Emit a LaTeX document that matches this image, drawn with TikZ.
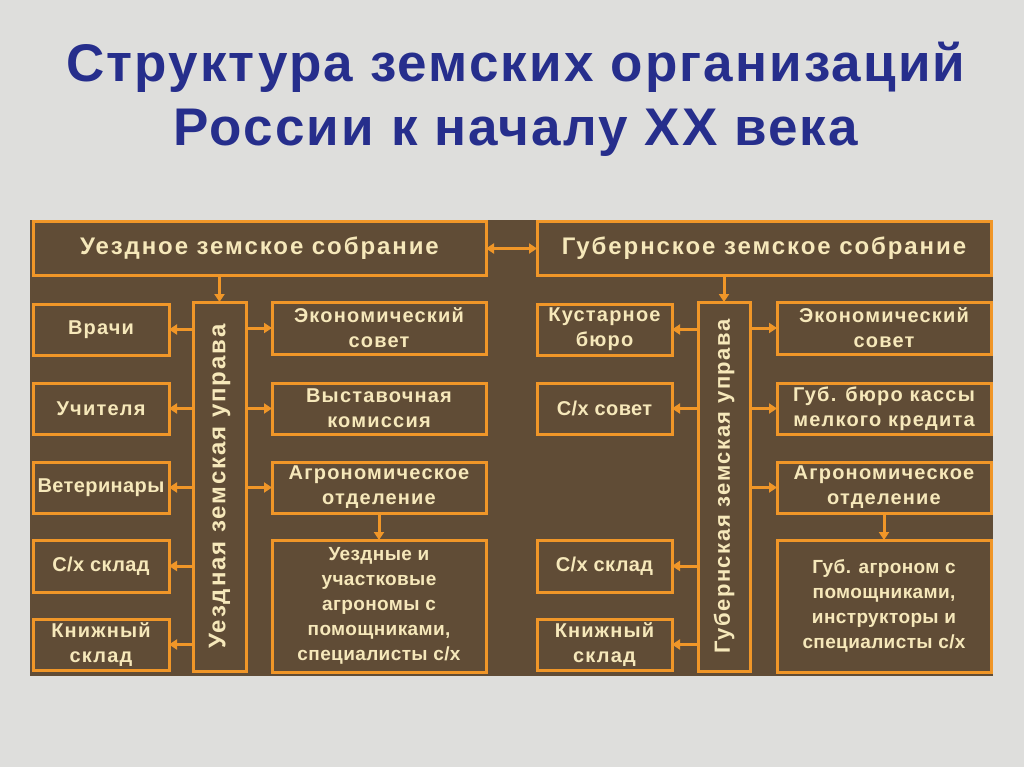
\documentclass[tikz,border=0pt]{standalone}
\usepackage{fontspec}
\setmainfont{Liberation Sans}
\newfontfamily\boxfont[LetterSpace=6]{Liberation Sans}
\newfontfamily\hdrfont[LetterSpace=8]{Liberation Sans}
\newfontfamily\vfont[LetterSpace=7]{Liberation Sans}
\newfontfamily\tightfont[LetterSpace=2]{Liberation Sans}
\newfontfamily\ttlfont[LetterSpace=4]{Liberation Sans}
\usetikzlibrary{arrows.meta}
\definecolor{bg}{RGB}{222,222,220}
\definecolor{panel}{RGB}{96,76,54}
\definecolor{edge}{RGB}{240,150,40}
\definecolor{txt}{RGB}{246,232,186}
\definecolor{ttl}{RGB}{38,46,140}
\newcommand\hdr{\hdrfont\bfseries\fontsize{24}{25}\selectfont}
\newcommand\vhdr{\vfont\bfseries\fontsize{22}{25}\selectfont}
\newcommand\sm{\boxfont\bfseries\fontsize{20}{25}\selectfont}
\newcommand\tg{\tightfont\bfseries\fontsize{20}{25}\selectfont}
\newcommand\bg{\tightfont\bfseries\fontsize{19}{25}\selectfont}
\newcommand\bx[7][\sm]{\node[box,font=#1,minimum width={#5-#3},minimum height={#6-#4}] (#2) at ({(#3+#5)/2},{(#4+#6)/2}) {#7};}
\begin{document}
\begin{tikzpicture}[x=1pt,y=-1pt,
  box/.style={draw=edge,line width=3pt,fill=panel,text=txt,inner sep=0pt,outer sep=0pt,align=center},
  arr/.style={draw=edge,line width=3pt,-{Triangle[width=10pt,length=8pt]}},
  darr/.style={draw=edge,line width=3pt,{Triangle[width=10pt,length=8pt]}-{Triangle[width=10pt,length=8pt]}},
  title/.style={text=ttl,font=\ttlfont\bfseries\fontsize{53}{64}\selectfont,anchor=base}]
\useasboundingbox (0,0) rectangle (1024,767);
\fill[bg] (0,0) rectangle (1024,767);
\node[title] (t1) at (516,82) {Структура земских организаций};
\node[title] (t2) at (516,146) {России к началу XX века};
\fill[panel] (30,220) rectangle (993,676);
% top
\bx[\hdr]{ua}{33}{222}{486}{275}{Уездное земское собрание}
\bx[\hdr]{ga}{537}{222}{991}{275}{Губернское земское собрание}
% left uprava
\bx{uu}{193}{302}{246}{671}{}
\node[text=txt,font=\hdr,rotate=90] (uut) at (uu.center) {Уездная земская управа};
\bx{l1}{33}{304}{169}{355}{Врачи}
\bx{l2}{33}{383}{169}{434}{Учителя}
\bx[\tg]{l3}{33}{462}{169}{513}{Ветеринары}
\bx[\tg]{l4}{33}{540}{169}{592}{С/х склад}
\bx{l5}{33}{619}{169}{670}{Книжный\\склад}
\bx{r1}{272}{302}{486}{354}{Экономический\\совет}
\bx{r2}{272}{383}{486}{434}{Выставочная\\комиссия}
\bx{r3}{272}{462}{486}{513}{Агрономическое\\отделение}
\bx[\bg]{r4}{272}{540}{486}{672}{Уездные и\\участковые\\агрономы с\\помощниками,\\специалисты с/х}
% right uprava
\bx{gu}{698}{302}{750}{671}{}
\node[text=txt,font=\vhdr,rotate=90] (gut) at (gu.center) {Губернская земская управа};
\bx{m1}{537}{304}{672}{355}{Кустарное\\бюро}
\bx[\tg]{m2}{537}{383}{672}{434}{С/х совет}
\bx[\tg]{m4}{537}{540}{672}{592}{С/х склад}
\bx{m5}{537}{619}{672}{670}{Книжный\\склад}
\bx{s1}{777}{302}{991}{354}{Экономический\\совет}
\bx{s2}{777}{383}{991}{434}{Губ. бюро кассы\\мелкого кредита}
\bx{s3}{777}{462}{991}{513}{Агрономическое\\отделение}
\bx[\bg]{s4}{777}{540}{991}{672}{Губ. агроном с\\помощниками,\\инструкторы и\\специалисты с/х}
% connectors
\draw[darr] (ua.east) -- (ga.west);
\draw[arr] (ua.south -| uu.north) -- (uu.north);
\draw[arr] (ga.south -| gu.north) -- (gu.north);
\foreach \b in {l1,l2,l3,l4,l5} \draw[arr] (uu.west |- \b.east) -- (\b.east);
\foreach \b in {r1,r2,r3} \draw[arr] (uu.east |- \b.west) -- (\b.west);
\foreach \b in {m1,m2,m4,m5} \draw[arr] (gu.west |- \b.east) -- (\b.east);
\foreach \b in {s1,s2,s3} \draw[arr] (gu.east |- \b.west) -- (\b.west);
\draw[arr] (r3.south) -- (r4.north);
\draw[arr] (s3.south) -- (s4.north);
\end{tikzpicture}
\end{document}
